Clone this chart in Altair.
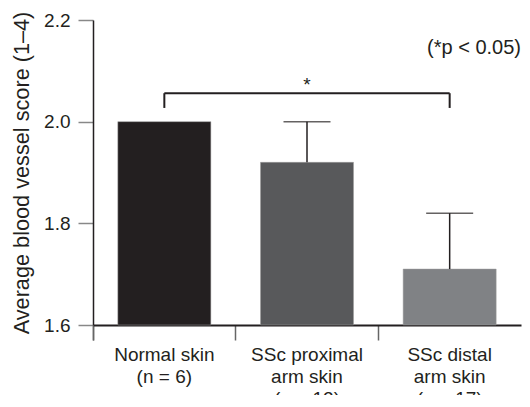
import altair as alt
import pandas as pd

categories = ["Normal skin\n(n = 6)", "SSc proximal\narm skin\n(n = 12)", "SSc distal\narm skin\n(n = 17)"]
means = [2.0, 1.92, 1.71]
errors = [0.0, 0.08, 0.11]
bar_colors = ["#231f20", "#58595b", "#808285"]
y_ticks = [1.6, 1.8, 2.0, 2.2]
y_min, y_max = 1.6, 2.2
bracket_y = 2.056
bracket_drop = 2.027
pnote_y = 2.133

FONT = "Liberation Sans"
YTITLE = "Average blood vessel score (1\u20134)"

df = pd.DataFrame({"cat": categories, "mean": means, "err": errors})
df["upper"] = df["mean"] + df["err"]
df_err = df[df["err"] > 0]

xscale = alt.Scale(domain=categories, paddingInner=0, paddingOuter=0)
yscale = alt.Scale(domain=[y_min, y_max], nice=False, zero=False)

xaxis = alt.Axis(labelExpr="split(datum.label, '\\n')", labelAngle=0, ticks=True,
                 bandPosition=0, tickExtra=True, tickSize=15, tickColor="#666666", tickWidth=1.5,
                 domain=True, domainColor="#231f20", domainWidth=2,
                 labelFont=FONT, labelFontSize=19, labelColor="#231f20",
                 labelLineHeight=22, labelPadding=5)
yaxis = alt.Axis(values=y_ticks, format=".1f", grid=False, ticks=True,
                 tickSize=15, tickColor="#888888", tickWidth=1.5,
                 domain=True, domainColor="#231f20", domainWidth=1.5,
                 labelFont=FONT, labelFontSize=19, labelColor="#231f20", labelPadding=8,
                 titleFont=FONT, titleFontSize=21.7, titleFontWeight="normal",
                 titleColor="#231f20", titlePadding=10)

X = lambda f, **kw: alt.X(f, scale=xscale, title=None, axis=xaxis, **kw)
Y = lambda f: alt.Y(f, scale=yscale, title=YTITLE, axis=yaxis)

bars = alt.Chart(df).mark_bar(stroke="#9a9a9a", strokeWidth=0.5, width=93).encode(
    x=X("cat:N"),
    y=Y("mean:Q"),
    y2=alt.datum(y_min),
    color=alt.Color("cat:N", scale=alt.Scale(domain=categories, range=bar_colors), legend=None),
)

err_line = alt.Chart(df_err).mark_rule(color="#231f20", strokeWidth=1.5).encode(
    x=X("cat:N"),
    y=Y("mean:Q"),
    y2="upper:Q",
)

err_cap = alt.Chart(df_err).mark_tick(color="#231f20", size=47, thickness=1.5).encode(
    x=X("cat:N"),
    y=Y("upper:Q"),
)

br_h = pd.DataFrame({"cat": [categories[0]], "b": [categories[2]], "y": [bracket_y]})
bracket_h = alt.Chart(br_h).mark_rule(color="#231f20", strokeWidth=2).encode(
    x=X("cat:N"),
    x2="b:N",
    y=Y("y:Q"),
)

br_v = pd.DataFrame({"cat": [categories[0], categories[2]], "y1": [bracket_drop] * 2, "y2": [bracket_y] * 2})
bracket_v = alt.Chart(br_v).mark_rule(color="#231f20", strokeWidth=2).encode(
    x=X("cat:N"),
    y=Y("y1:Q"),
    y2="y2:Q",
)

star_df = pd.DataFrame({"cat": [categories[1]], "y": [bracket_y], "t": ["*"]})
star = alt.Chart(star_df).mark_text(font=FONT, fontSize=19, color="#231f20",
                                    baseline="alphabetic", dy=-2).encode(
    x=X("cat:N"),
    y=Y("y:Q"),
    text="t:N",
)

note_df = pd.DataFrame({"cat": [categories[2]], "y": [pnote_y], "t": ["(*p < 0.05)"]})
note = alt.Chart(note_df).mark_text(font=FONT, fontSize=20, color="#231f20",
                                    baseline="alphabetic", align="right").encode(
    x=X("cat:N", bandPosition=1),
    y=Y("y:Q"),
    text="t:N",
)

chart = alt.layer(bars, err_line, err_cap, bracket_h, bracket_v, star, note).properties(
    width=428, height=305,
    autosize=alt.AutoSizeParams(type="none"),
    padding={"left": 85, "top": 12, "right": 1, "bottom": 70},
).configure_view(stroke=None)

chart.save("out.html", embed_options={"renderer": "svg", "actions": False})
